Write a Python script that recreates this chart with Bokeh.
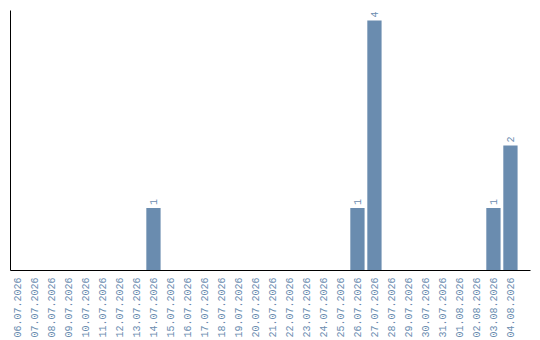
from math import pi

from bokeh.core.properties import value
from bokeh.embed import file_html
from bokeh.models import ColumnDataSource, FixedTicker, Range1d
from bokeh.plotting import figure
from bokeh.resources import INLINE

# Daily counts, 06.07.2026 – 04.08.2026
dates = [
    "06.07.2026", "07.07.2026", "08.07.2026", "09.07.2026", "10.07.2026",
    "11.07.2026", "12.07.2026", "13.07.2026", "14.07.2026", "15.07.2026",
    "16.07.2026", "17.07.2026", "18.07.2026", "19.07.2026", "20.07.2026",
    "21.07.2026", "22.07.2026", "23.07.2026", "24.07.2026", "25.07.2026",
    "26.07.2026", "27.07.2026", "28.07.2026", "29.07.2026", "30.07.2026",
    "31.07.2026", "01.08.2026", "02.08.2026", "03.08.2026", "04.08.2026",
]
counts = [0, 0, 0, 0, 0, 0, 0, 0, 1, 0,
          0, 0, 0, 0, 0, 0, 0, 0, 0, 0,
          1, 4, 0, 0, 0, 0, 0, 0, 1, 2]

BAR = "#6a8caf"
FONT = "Liberation Mono"

idx = list(range(len(dates)))
src = ColumnDataSource(dict(x=idx, top=counts))
lbl_idx = [i for i, c in zip(idx, counts) if c > 0]
lbl_src = ColumnDataSource(dict(
    x=lbl_idx,
    y=[counts[i] for i in lbl_idx],
    text=[str(counts[i]) for i in lbl_idx],
))

p = figure(
    frame_width=520, frame_height=260,
    x_range=Range1d(-0.41, len(dates) - 1 + 1.18),
    y_range=Range1d(0, 4.16),
    output_backend="svg", toolbar_location=None,
    min_border_left=10, min_border_right=10, min_border_top=10, min_border_bottom=0,
)
p.outline_line_color = None
p.grid.visible = False
p.background_fill_color = "white"

p.vbar(x="x", top="top", width=0.84, bottom=0, source=src,
       fill_color=BAR, line_color=None)

p.text(x="x", y="y", text="text", source=lbl_src, angle=pi / 2,
       text_align="left", text_baseline="middle", y_offset=-3,
       text_font=value(FONT), text_font_size="10px", text_color=BAR)

xa = p.xaxis[0]
xa.ticker = FixedTicker(ticks=idx)
xa.major_label_overrides = {i: d for i, d in zip(idx, dates)}
xa.major_label_orientation = pi / 2
xa.major_label_text_font = FONT
xa.major_label_text_font_size = "10px"
xa.major_label_text_color = BAR
xa.major_label_standoff = 1
xa.major_tick_line_color = None
xa.minor_tick_line_color = None
xa.axis_line_color = "black"
xa.axis_line_width = 1

# value axis: plain line, no ticks or labels
ya = p.yaxis[0]
ya.ticker = FixedTicker(ticks=[])
ya.major_tick_line_color = None
ya.minor_tick_line_color = None
ya.major_label_standoff = 0
ya.axis_line_color = "black"
ya.axis_line_width = 1

open("out.html", "w").write(file_html(p, INLINE))
